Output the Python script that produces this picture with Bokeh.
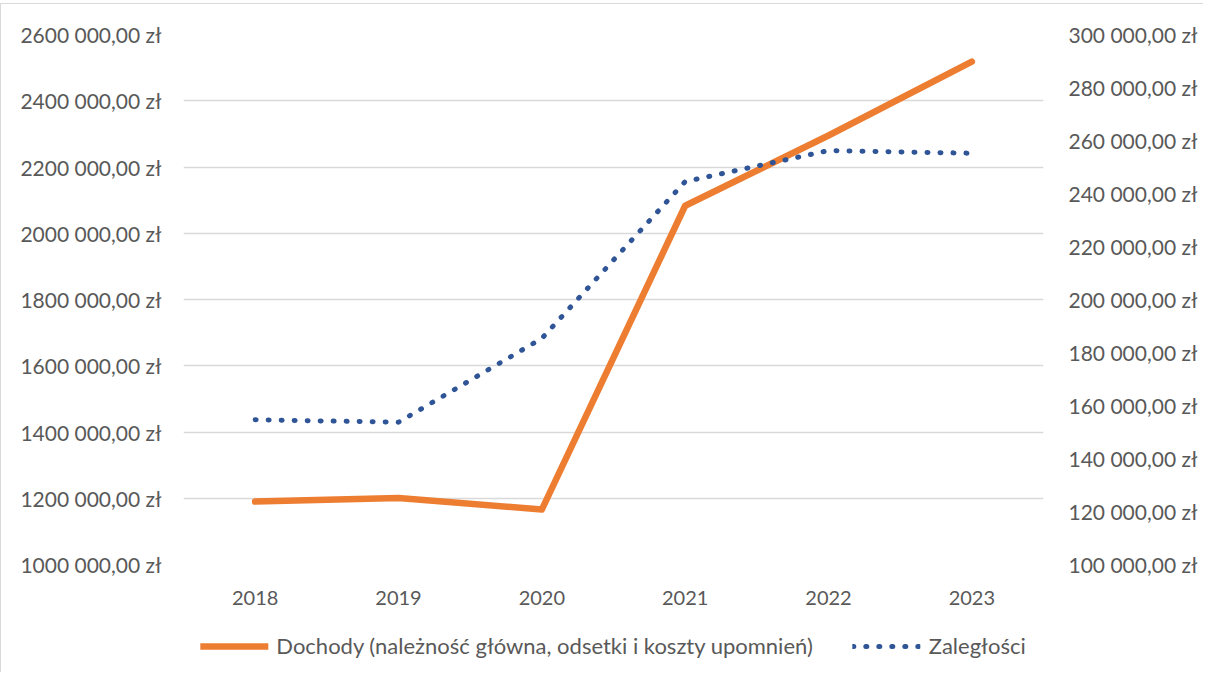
from bokeh.plotting import figure
from bokeh.layouts import column
from bokeh.models import (Range1d, LinearAxis, FixedTicker, CustomJSTickFormatter,
                          Legend, LegendItem, ColumnDataSource)
from bokeh.embed import file_html
from bokeh.resources import INLINE

years = ["2018", "2019", "2020", "2021", "2022", "2023"]
dochody = [1190000, 1201000, 1166000, 2083000, 2295000, 2518000]
zaleglosci = [154600, 153700, 185300, 244500, 256200, 255200]
left_ticks = [1000000, 1200000, 1400000, 1600000, 1800000, 2000000, 2200000, 2400000, 2600000]
right_ticks = [100000, 120000, 140000, 160000, 180000, 200000, 220000, 240000, 260000, 280000, 300000]
label_dochody = "Dochody (należność główna, odsetki i koszty upomnień)"
label_zaleglosci = "Zaległości"

FONT = "Lato"
TXT = "#595959"
ORANGE = "#ED7D31"
BLUE = "#2F5597"

src = ColumnDataSource(dict(x=years, d=dochody, z=zaleglosci))

p = figure(x_range=years, y_range=Range1d(1000000, 2600000),
           frame_width=860, frame_height=530, output_backend="svg", toolbar_location=None,
           min_border_left=182, min_border_right=160, min_border_top=30, min_border_bottom=50)
p.outline_line_color = None
p.extra_y_ranges = {"right": Range1d(100000, 300000)}

fmt = CustomJSTickFormatter(code="""
const t = Math.floor(tick / 1000);
const r = Math.round(tick % 1000);
return t + " " + String(r).padStart(3, "0") + ",00 zł";
""")

ly = p.yaxis[0]
ly.ticker = FixedTicker(ticks=left_ticks)
ly.formatter = fmt
ly.major_label_standoff = 22

ry = LinearAxis(y_range_name="right", ticker=FixedTicker(ticks=right_ticks), formatter=fmt)
ry.major_label_standoff = 25
p.add_layout(ry, "right")

for ax in p.yaxis + p.xaxis:
    ax.axis_line_color = None
    ax.major_tick_line_color = None
    ax.minor_tick_line_color = None
    ax.major_tick_out = 0
    ax.major_tick_in = 0
    ax.major_label_text_font = FONT
    ax.major_label_text_font_size = "21px"
    ax.major_label_text_color = TXT
p.xaxis.major_label_text_font_size = "20px"
p.xaxis.major_label_standoff = 26

p.xgrid.grid_line_color = None
p.ygrid.grid_line_color = "#d9d9d9"
p.ygrid.grid_line_width = 1.5
p.ygrid.ticker = FixedTicker(ticks=left_ticks)

p.line("x", "d", source=src, line_color=ORANGE, line_width=6.5, line_join="round", line_cap="round")
p.line("x", "z", source=src, y_range_name="right", line_color=BLUE, line_width=5,
       line_dash="1 12", line_cap="round")

# legend strip below the chart (its line renderers lie outside its visible range)
leg = figure(width=1202, height=58, output_backend="svg", toolbar_location=None,
             x_range=Range1d(0, 1), y_range=Range1d(0, 1),
             min_border_left=0, min_border_right=10, min_border_top=0, min_border_bottom=0)
leg.axis.visible = False
leg.grid.visible = False
leg.outline_line_color = None
e1 = leg.line(x=dochody, y=dochody, line_color=ORANGE, line_width=6.5, line_cap="round")
e2 = leg.line(x=zaleglosci, y=zaleglosci, line_color=BLUE, line_width=5, line_dash="1 12",
              line_cap="round")

legend = Legend(items=[LegendItem(label=label_dochody, renderers=[e1]),
                       LegendItem(label=label_zaleglosci, renderers=[e2])],
                orientation="horizontal", location="top")
legend.label_text_font = FONT
legend.label_text_font_size = "22px"
legend.label_text_color = TXT
legend.label_height = 22
legend.glyph_height = 22
legend.glyph_width = 68
legend.label_standoff = 8
legend.spacing = 40
legend.border_line_color = None
legend.background_fill_alpha = 0
legend.margin = 18
legend.padding = 0
leg.add_layout(legend, "center")

layout = column(p, leg, spacing=0)
layout.margin = (3, 0, 0, 0)
layout.styles = {"border-top": "1px solid #d9d9d9", "border-left": "1px solid #d9d9d9"}

open("out.html", "w").write(file_html(layout, INLINE))
